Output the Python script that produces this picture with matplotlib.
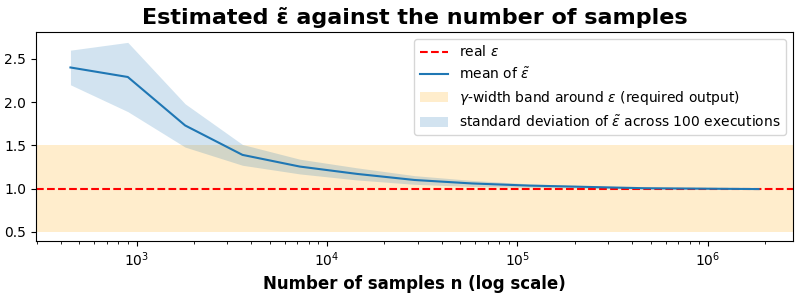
import numpy as np
import matplotlib
matplotlib.use("Agg")
import matplotlib.pyplot as plt

# number of samples (doubling from 450)
n_samples = [450, 900, 1800, 3600, 7200, 14400, 28800, 57600,
             115200, 230400, 460800, 921600, 1843200]
eps_mean = [2.40, 2.29, 1.73, 1.39, 1.255, 1.17, 1.10, 1.06,
            1.035, 1.02, 1.005, 1.0, 0.995]
eps_std = [0.20, 0.40, 0.25, 0.12, 0.085, 0.07, 0.05, 0.035,
           0.02, 0.015, 0.01, 0.007, 0.005]
real_eps = 1.0
gamma = 0.5

x = np.array(n_samples)
m = np.array(eps_mean)
s = np.array(eps_std)

fig, ax = plt.subplots(figsize=(8.01, 2.99), dpi=100)
ax.axhline(real_eps, color="red", linestyle="--", label=r"real $\epsilon$")
ax.plot(x, m, color="tab:blue", label=r"mean of $\tilde{\epsilon}$")
ax.axhspan(real_eps - gamma, real_eps + gamma, color="orange", alpha=0.2,
           linewidth=0, label=r"$\gamma$-width band around $\epsilon$ (required output)")
ax.fill_between(x, m - s, m + s, color="tab:blue", alpha=0.2, linewidth=0,
                label=r"standard deviation of $\tilde{\epsilon}$ across 100 executions")
ax.set_xscale("log")
ax.set_ylim(0.395, 2.81)
ax.set_xlabel("Number of samples n (log scale)", fontsize=12, fontweight="bold")
ax.set_title("Estimated \u03b5\u0303 against the number of samples", fontsize=16, fontweight="bold")
ax.legend(loc="upper right")
fig.subplots_adjust(left=0.045, right=0.99, top=0.893, bottom=0.194)
fig.savefig("out.png")
